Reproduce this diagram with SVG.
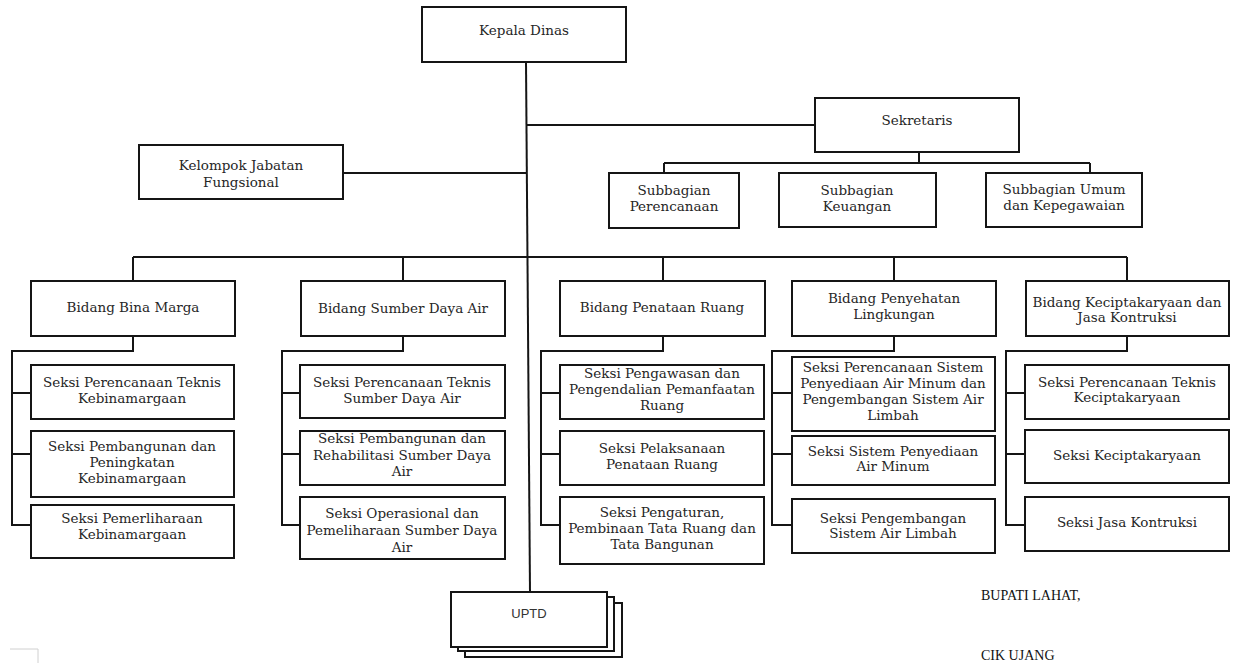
<svg xmlns="http://www.w3.org/2000/svg" width="1238" height="663" viewBox="0 0 1238 663">
<style>
.box{fill:#fff;stroke:#151515;stroke-width:2}
.ln{fill:none;stroke:#151515;stroke-width:2}
.t{font-family:"DejaVu Serif",serif;font-size:13.5px;fill:#262626;text-anchor:middle}
.s{font-family:"Liberation Sans",Arial,sans-serif;font-size:13px;fill:#333;text-anchor:middle}
.sig{font-family:"Liberation Serif","Times New Roman",serif;font-size:14px;fill:#111}
</style>
<rect width="1238" height="663" fill="#fff"/>
<g id="connectors">
<path class="ln" d="M526,62 L530,592"/>
<path class="ln" d="M526,125 H815"/>
<path class="ln" d="M343,173 H527"/>
<path class="ln" d="M919,152 V163 M664,163 H1090 M664,163 V173 M1090,163 V173"/>
<path class="ln" d="M133,257 H1127 M133,257 V281 M403,257 V281 M663,257 V281 M894,257 V281 M1127,257 V281"/>
<path class="ln" d="M133,336 V351 H12 V525 H31 M12,393 H31 M12,454 H31"/>
<path class="ln" d="M403,336 V351 H282 V525 H300 M282,393 H300 M282,454 H300"/>
<path class="ln" d="M663,336 V351 H541 V525 H560 M541,393 H560 M541,454 H560"/>
<path class="ln" d="M894,336 V351 H772 V525 H792 M772,393 H792 M772,454 H792"/>
<path class="ln" d="M1127,336 V351 H1006 V525 H1025 M1006,393 H1025 M1006,454 H1025"/>
</g>
<g id="kepala-dinas"><rect class="box" x="422" y="7" width="204" height="55"/><text class="t" x="524" y="35">Kepala Dinas</text></g>
<g id="sekretaris"><rect class="box" x="815" y="98" width="204" height="54"/><text class="t" x="917" y="125">Sekretaris</text></g>
<g id="kelompok"><rect class="box" x="139" y="145" width="204" height="54"/><text class="t" x="241" y="170">Kelompok Jabatan</text><text class="t" x="241" y="187">Fungsional</text></g>
<g id="sub-perencanaan"><rect class="box" x="609" y="173" width="130" height="55"/><text class="t" x="674" y="195">Subbagian</text><text class="t" x="674" y="211">Perencanaan</text></g>
<g id="sub-keuangan"><rect class="box" x="779" y="173" width="157" height="54"/><text class="t" x="857" y="195">Subbagian</text><text class="t" x="857" y="211">Keuangan</text></g>
<g id="sub-umum"><rect class="box" x="986" y="173" width="156" height="54"/><text class="t" x="1064" y="194">Subbagian Umum</text><text class="t" x="1064" y="210">dan Kepegawaian</text></g>
<g id="bidang-bina-marga"><rect class="box" x="31" y="281" width="204" height="55"/><text class="t" x="133" y="312">Bidang Bina Marga</text></g>
<g id="bidang-sda"><rect class="box" x="301" y="281" width="204" height="55"/><text class="t" x="403" y="313">Bidang Sumber Daya Air</text></g>
<g id="bidang-penataan"><rect class="box" x="560" y="281" width="205" height="55"/><text class="t" x="662" y="312">Bidang Penataan Ruang</text></g>
<g id="bidang-penyehatan"><rect class="box" x="792" y="281" width="204" height="55"/><text class="t" x="894" y="303">Bidang Penyehatan</text><text class="t" x="894" y="319">Lingkungan</text></g>
<g id="bidang-kecipta"><rect class="box" x="1026" y="281" width="203" height="55"/><text class="t" x="1127" y="307">Bidang Keciptakaryaan dan</text><text class="t" x="1127" y="322">Jasa Kontruksi</text></g>
<g id="bm-1"><rect class="box" x="31" y="365" width="203" height="54"/><text class="t" x="132" y="387">Seksi Perencanaan Teknis</text><text class="t" x="132" y="403">Kebinamargaan</text></g>
<g id="bm-2"><rect class="box" x="31" y="431" width="203" height="66"/><text class="t" x="132" y="451">Seksi Pembangunan dan</text><text class="t" x="132" y="467">Peningkatan</text><text class="t" x="132" y="483">Kebinamargaan</text></g>
<g id="bm-3"><rect class="box" x="31" y="505" width="203" height="53"/><text class="t" x="132" y="523">Seksi Pemerliharaan</text><text class="t" x="132" y="539">Kebinamargaan</text></g>
<g id="sda-1"><rect class="box" x="300" y="365" width="205" height="53"/><text class="t" x="402" y="387">Seksi Perencanaan Teknis</text><text class="t" x="402" y="403">Sumber Daya Air</text></g>
<g id="sda-2"><rect class="box" x="300" y="431" width="205" height="54"/><text class="t" x="402" y="443">Seksi Pembangunan dan</text><text class="t" x="402" y="460">Rehabilitasi Sumber Daya</text><text class="t" x="402" y="476">Air</text></g>
<g id="sda-3"><rect class="box" x="300" y="497" width="205" height="62"/><text class="t" x="402" y="518">Seksi Operasional dan</text><text class="t" x="402" y="535">Pemeliharaan Sumber Daya</text><text class="t" x="402" y="552">Air</text></g>
<g id="pr-1"><rect class="box" x="560" y="365" width="204" height="54"/><text class="t" x="662" y="378">Seksi Pengawasan dan</text><text class="t" x="662" y="394">Pengendalian Pemanfaatan</text><text class="t" x="662" y="410">Ruang</text></g>
<g id="pr-2"><rect class="box" x="560" y="431" width="204" height="54"/><text class="t" x="662" y="453">Seksi Pelaksanaan</text><text class="t" x="662" y="469">Penataan Ruang</text></g>
<g id="pr-3"><rect class="box" x="560" y="497" width="204" height="67"/><text class="t" x="662" y="517">Seksi Pengaturan,</text><text class="t" x="662" y="533">Pembinaan Tata Ruang dan</text><text class="t" x="662" y="549">Tata Bangunan</text></g>
<g id="pl-1"><rect class="box" x="792" y="357" width="203" height="74"/><text class="t" x="893" y="372">Seksi Perencanaan Sistem</text><text class="t" x="893" y="388">Penyediaan Air Minum dan</text><text class="t" x="893" y="404">Pengembangan Sistem Air</text><text class="t" x="893" y="420">Limbah</text></g>
<g id="pl-2"><rect class="box" x="792" y="436" width="203" height="49"/><text class="t" x="893" y="456">Seksi Sistem Penyediaan</text><text class="t" x="893" y="471">Air Minum</text></g>
<g id="pl-3"><rect class="box" x="792" y="499" width="203" height="54"/><text class="t" x="893" y="523">Seksi Pengembangan</text><text class="t" x="893" y="538">Sistem Air Limbah</text></g>
<g id="kc-1"><rect class="box" x="1025" y="365" width="204" height="54"/><text class="t" x="1127" y="387">Seksi Perencanaan Teknis</text><text class="t" x="1127" y="402">Keciptakaryaan</text></g>
<g id="kc-2"><rect class="box" x="1025" y="430" width="204" height="53"/><text class="t" x="1127" y="460">Seksi Keciptakaryaan</text></g>
<g id="kc-3"><rect class="box" x="1025" y="497" width="204" height="54"/><text class="t" x="1127" y="527">Seksi Jasa Kontruksi</text></g>
<g id="uptd">
<rect class="box" x="465" y="603" width="157" height="54"/>
<rect class="box" x="458" y="597" width="156" height="54"/>
<rect class="box" x="451" y="592" width="156" height="55"/>
<text class="s" x="529" y="618">UPTD</text>
</g>
<g id="signature">
<text class="sig" x="981" y="600">BUPATI LAHAT,</text>
<text class="sig" x="981" y="660">CIK UJANG</text>
</g>
<path d="M10,649 H38 V663" fill="none" stroke="#d0d0d0" stroke-width="1"/>
</svg>
